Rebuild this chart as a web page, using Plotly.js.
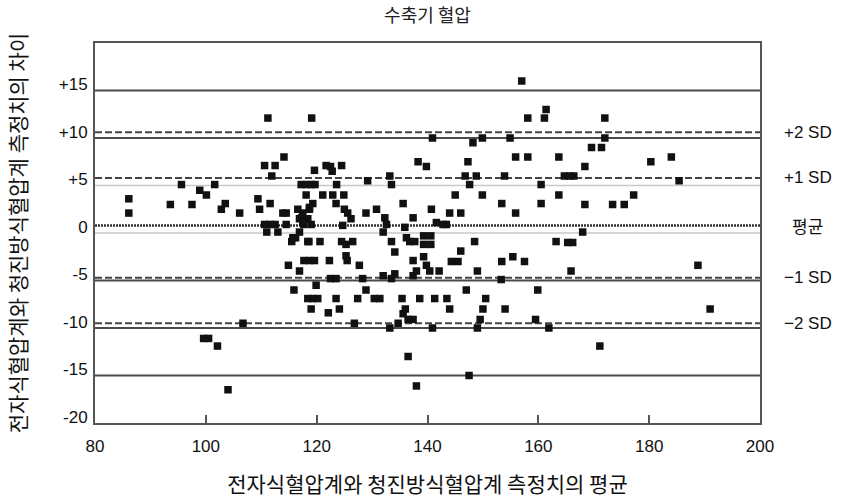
<!DOCTYPE html>
<html>
<head>
<meta charset="utf-8">
<script src="https://cdn.plot.ly/plotly-3.0.1.min.js"></script>
<style>html,body{margin:0;padding:0;background:#fff}#chart{width:842px;height:500px}</style>
</head>
<body>
<div id="chart"></div>
<script>
// Mean of the two measurements (x) and difference between them (y)
const meanValues = [
86.1,86.1,93.6,95.6,97.5,98.9,100.1,101.6,102.8,103.5,106.1,109.4,109.7,111.2,110.6,112.5,111.9,114.1,111.6,110.6,
111.6,112.5,111.0,113.0,114.5,113.9,114.5,115.5,116.2,116.9,116.6,117.7,117.3,118.4,119.1,119.6,117.2,118.1,119.0,119.7,
118.1,119.3,118.7,118.4,119.0,121.7,122.5,124.5,122.8,123.6,129.2,133.2,133.5,138.3,139.8,121.1,122.9,124.9,123.5,117.5,
118.7,125.0,125.6,126.2,128.9,130.8,132.3,135.6,137.4,140.7,116.9,117.5,124.7,132.6,135.9,141.6,140.9,157.0,158.1,161.1,
161.4,148.2,149.9,154.9,155.9,158.1,163.7,147.3,146.8,148.8,147.6,153.9,160.5,145.0,149.9,163.7,153.4,160.5,144.0,146.0,
155.9,142.8,143.4,132.0,133.5,134.1,136.2,136.8,137.7,139.3,140.6,139.3,140.6,118.6,120.6,124.5,125.3,126.5,148.5,163.2,
172.0,172.0,169.6,171.4,168.4,164.7,165.6,166.4,168.4,173.4,175.5,168.0,180.3,184.0,185.4,177.2,165.3,166.2,115.7,125.3,
125.5,122.3,117.7,118.7,119.6,114.9,127.7,137.4,139.3,139.8,140.4,116.9,132.0,133.5,134.1,137.4,138.0,122.5,123.5,128.3,
119.9,115.9,128.9,118.4,119.3,120.2,123.5,127.4,130.4,131.4,135.4,138.6,141.3,119.0,122.1,124.1,136.0,135.6,136.5,137.4,
134.7,133.2,126.8,140.9,136.5,138.0,146.0,144.3,145.5,153.4,155.4,157.5,142.1,149.0,165.9,153.3,147.0,159.9,143.5,150.5,
144.0,150.0,154.0,149.5,159.5,149.0,161.9,171.1,147.5,106.7,99.6,100.5,102.1,104.0,188.8,191.0
];
const diffValues = [
3.6,2.1,3.0,5.1,3.0,4.5,4.0,5.1,2.5,3.1,2.1,3.6,2.5,12.1,7.1,7.1,6.0,8.0,3.1,0.9,
0.9,0.9,0.1,0.1,2.1,2.1,0.9,-0.9,-0.5,0.1,2.5,0.9,1.6,-0.9,12.1,6.6,5.1,5.1,5.1,5.1,
4.0,3.1,2.7,1.5,0.9,7.1,7.0,7.1,6.5,5.1,5.5,6.0,5.1,7.5,7.0,4.0,4.0,4.0,3.1,2.1,
2.5,2.5,2.1,1.5,2.1,2.5,1.6,3.1,1.6,2.5,1.5,1.1,0.8,0.9,0.6,1.1,10.0,16.0,12.1,12.1,
13.0,9.5,10.0,10.0,8.0,8.0,8.0,7.5,6.0,6.0,5.1,6.0,5.1,4.0,4.0,4.0,3.1,3.1,2.1,2.1,
2.1,0.9,0.9,0.1,-0.9,-2.0,-0.5,-0.9,-0.9,-0.3,-0.3,-1.2,-1.2,-0.9,-0.9,-0.9,-1.2,-0.9,-0.9,-0.9,
12.1,10.0,9.0,9.0,7.0,6.0,6.0,6.0,3.0,3.0,3.0,0.1,7.5,8.0,5.5,4.0,-1.0,-1.0,-0.5,-2.4,
-2.9,-2.9,-2.9,-2.9,-2.9,-3.4,-3.4,-2.9,-2.5,-3.4,-4.0,-4.0,-4.5,-4.8,-4.3,-4.5,-4.0,-4.8,-4.8,-4.8,
-5.5,-6.0,-6.0,-6.9,-6.9,-6.9,-6.9,-6.9,-6.9,-6.9,-6.9,-6.9,-6.9,-8.0,-8.4,-8.0,-8.0,-8.5,-9.1,-9.1,
-9.5,-10.0,-9.5,-10.0,-13.0,-16.1,-1.9,-3.0,-3.0,-3.0,-2.5,-3.0,-4.0,-4.0,-4.0,-4.9,-6.0,-6.0,-6.9,-6.9,
-8.0,-8.0,-8.0,-9.1,-9.1,-10.0,-10.0,-11.9,-15.0,-9.5,-11.1,-11.1,-11.9,-16.5,-3.4,-8.0
];

// Reference lines
const meanDiff = 0.8;
const sdLines = [10.6, 5.8, -4.7, -9.5];
const sdLabels = ['+2 SD', '+1 SD', '−1 SD', '−2 SD'];
const darkGrid = [15, 10, -5, -10, -15];
const lightGrid = [5, 0];

// Axis ticks
const yTickVals = [15, 10, 5, 0, -5, -10, -15, -20];
const yTickText = ['+15', '+10', '+5', '0', '-5', '-10', '-15', '-20'];
const xTickVals = [80, 100, 120, 140, 160, 180, 200];

const numFont = 'Liberation Sans Narrow, Liberation Sans, Arial, sans-serif';
const krFont = 'Noto Sans CJK KR, sans-serif';

const shapes = [];
darkGrid.forEach(v => shapes.push({type:'line', xref:'paper', yref:'y', x0:0, x1:1, y0:v, y1:v,
  line:{color:'#4a4a4a', width:2}, layer:'below'}));
lightGrid.forEach(v => shapes.push({type:'line', xref:'paper', yref:'y', x0:0, x1:1, y0:v, y1:v,
  line:{color:'#c8c8c8', width:1.5}, layer:'below'}));
sdLines.forEach(v => shapes.push({type:'line', xref:'paper', yref:'y', x0:0, x1:1, y0:v, y1:v,
  line:{color:'#444', width:2, dash:'7px,3px'}, layer:'below'}));
shapes.push({type:'line', xref:'paper', yref:'y', x0:0, x1:1, y0:meanDiff, y1:meanDiff,
  line:{color:'#333', width:2.5, dash:'2px,1px'}, layer:'below'});

const annotations = [];
sdLines.forEach((v, i) => annotations.push({xref:'paper', yref:'y', x:1.072, y:v, text:sdLabels[i],
  showarrow:false, xanchor:'center', yanchor:'middle', font:{family:numFont, size:17, color:'#111'}}));
annotations.push({xref:'paper', yref:'y', x:1.072, y:meanDiff, text:'평균', showarrow:false,
  xanchor:'center', yanchor:'middle', font:{family:krFont, size:17, color:'#111'}});

const trace = {
  x: meanValues, y: diffValues, type:'scatter', mode:'markers',
  marker:{symbol:'square', size:7.5, color:'#111', line:{width:0}},
  hoverinfo:'x+y', showlegend:false
};

const layout = {
  width:842, height:500,
  margin:{l:95, r:82, t:43, b:77},
  paper_bgcolor:'#fff', plot_bgcolor:'#fff',
  title:{text:'수축기 혈압', x:0.5, xref:'paper', y:0.968, yanchor:'middle',
    font:{family:krFont, size:18, color:'#222'}},
  xaxis:{range:[80,200], tickvals:xTickVals, ticks:'inside', ticklen:8, tickwidth:2, tickcolor:'#555',
    showgrid:false, zeroline:false, showline:true, mirror:true, linecolor:'#555', linewidth:2,
    tickfont:{family:numFont, size:17, color:'#111'}, ticklabelstandoff:7,
    title:{text:'전자식혈압계와 청진방식혈압계 측정치의 평균', standoff:22,
      font:{family:krFont, size:21, color:'#111'}}},
  yaxis:{range:[-20,20], tickvals:yTickVals, ticktext:yTickText, ticks:'',
    showgrid:false, zeroline:false, showline:true, mirror:true, linecolor:'#555', linewidth:2,
    tickfont:{family:numFont, size:17, color:'#111'}, ticklabelshift:-6, ticklabelstandoff:2,
    title:{text:'전자식혈압계와 청진방식혈압계 측정치의 차이', standoff:26,
      font:{family:krFont, size:21, color:'#111'}}},
  shapes:shapes, annotations:annotations
};

Plotly.newPlot('chart', [trace], layout, {displayModeBar:false, staticPlot:true});
</script>
</body>
</html>
